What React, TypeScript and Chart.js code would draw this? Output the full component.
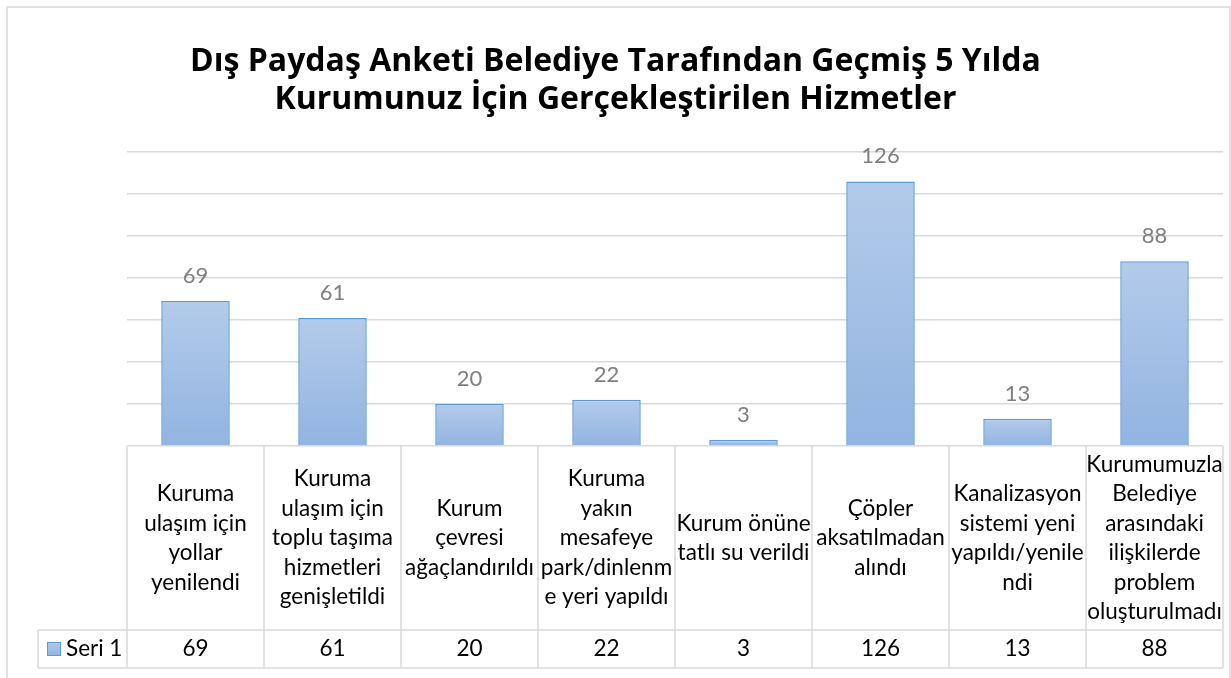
import React, { useEffect, useRef } from "react";
import { Chart, registerables } from "chart.js";

Chart.register(...registerables);

const titleLines = [
  "Dış Paydaş Anketi Belediye Tarafından Geçmiş 5 Yılda",
  "Kurumunuz İçin Gerçekleştirilen Hizmetler",
];

const categories: string[][] = [
  ["Kuruma", "ulaşım için", "yollar", "yenilendi"],
  ["Kuruma", "ulaşım için", "toplu taşıma", "hizmetleri", "genişletildi"],
  ["Kurum", "çevresi", "ağaçlandırıldı"],
  ["Kuruma", "yakın", "mesafeye", "park/dinlenm", "e yeri yapıldı"],
  ["Kurum önüne", "tatlı su verildi"],
  ["Çöpler", "aksatılmadan", "alındı"],
  ["Kanalizasyon", "sistemi yeni", "yapıldı/yenile", "ndi"],
  ["Kurumumuzla", "Belediye", "arasındaki", "ilişkilerde", "problem", "oluşturulmadı"],
];

const seriesName = "Seri 1";
const values = [69, 61, 20, 22, 3, 126, 13, 88];

const yMin = 0;
const yMax = 140;
const yStep = 20;

const FONT = "Lato, 'Open Sans', 'Liberation Sans', sans-serif";
const TITLE_FONT = "'Open Sans', Lato, 'Liberation Sans', sans-serif";
const GRID = "#d9d9d9";
const BAR_TOP = "#b3cbea";
const BAR_BOTTOM = "#92b4e1";
const BAR_BORDER = "#5b9bd5";

function barGradient(ctx: CanvasRenderingContext2D, top: number, bottom: number) {
  if (!isFinite(top) || !isFinite(bottom) || top === bottom) return BAR_TOP;
  const g = ctx.createLinearGradient(0, top, 0, bottom);
  g.addColorStop(0, BAR_TOP);
  g.addColorStop(1, BAR_BOTTOM);
  return g;
}

const framePlugin = {
  id: "frameBg",
  beforeDraw(chart: any) {
    const { ctx, width, height } = chart;
    ctx.save();
    ctx.fillStyle = "#ffffff";
    ctx.fillRect(0, 0, width, height);
    ctx.strokeStyle = GRID;
    ctx.lineWidth = 1.5;
    ctx.strokeRect(7, 7, 1223, 720);
    ctx.restore();
  },
};

const labelsPlugin = {
  id: "valueLabels",
  afterDatasetsDraw(chart: any) {
    const { ctx } = chart;
    const meta = chart.getDatasetMeta(0);
    ctx.save();
    ctx.font = `22px ${FONT}`;
    ctx.fillStyle = "#7f7f7f";
    ctx.textAlign = "center";
    ctx.textBaseline = "middle";
    meta.data.forEach((el: any, i: number) => {
      ctx.fillText(String(values[i]), el.x, el.y - 25);
    });
    ctx.restore();
  },
};

const tablePlugin = {
  id: "dataTable",
  afterDraw(chart: any) {
    const { ctx, chartArea } = chart;
    const xs = chart.scales.x;
    const n = categories.length;
    const colW = (chartArea.right - chartArea.left) / n;
    const top = chartArea.bottom;
    const rowSplit = 630;
    const bottom = 668;
    const legendLeft = 38;

    ctx.save();
    ctx.strokeStyle = GRID;
    ctx.lineWidth = 1.5;
    ctx.beginPath();
    for (let i = 0; i <= n; i++) {
      const x = i < n ? xs.getPixelForValue(i) - colW / 2 : xs.getPixelForValue(n - 1) + colW / 2;
      ctx.moveTo(x, top);
      ctx.lineTo(x, bottom);
    }
    ctx.moveTo(legendLeft, rowSplit);
    ctx.lineTo(chartArea.right, rowSplit);
    ctx.moveTo(legendLeft, bottom);
    ctx.lineTo(chartArea.right, bottom);
    ctx.moveTo(legendLeft, rowSplit);
    ctx.lineTo(legendLeft, bottom);
    ctx.stroke();

    ctx.fillStyle = "#000000";
    ctx.textAlign = "center";
    ctx.textBaseline = "middle";
    ctx.font = `22.5px ${FONT}`;
    const lh = 29.5;
    const midHeader = (top + rowSplit) / 2;
    categories.forEach((lines, i) => {
      const cx = xs.getPixelForValue(i);
      const start = midHeader - ((lines.length - 1) * lh) / 2;
      lines.forEach((t, j) => ctx.fillText(t, cx, start + j * lh));
    });
    const midRow = (rowSplit + bottom) / 2;
    values.forEach((v, i) => {
      ctx.fillText(String(v), xs.getPixelForValue(i), midRow);
    });

    // legend key
    const kx = 47, ky = 642, ks = 14;
    ctx.fillStyle = barGradient(ctx, ky, ky + ks);
    ctx.fillRect(kx, ky, ks, ks);
    ctx.strokeStyle = BAR_BORDER;
    ctx.lineWidth = 1;
    ctx.strokeRect(kx + 0.5, ky + 0.5, ks - 1, ks - 1);
    ctx.fillStyle = "#000000";
    ctx.textAlign = "left";
    ctx.fillText(seriesName, 66, midRow);
    ctx.restore();
  },
};

export default function App() {
  const ref = useRef<HTMLCanvasElement>(null);
  useEffect(() => {
    if (!ref.current) return;
    const chart = new Chart(ref.current, {
      type: "bar",
      data: {
        labels: categories,
        datasets: [
          {
            label: seriesName,
            data: values,
            backgroundColor: (c: any) => {
              const ch = c.chart;
              const y = ch.scales && ch.scales.y;
              if (!y || c.dataIndex === undefined) return BAR_TOP;
              const t = y.getPixelForValue(values[c.dataIndex]);
              const b = y.getPixelForValue(0);
              return barGradient(ch.ctx, t, b);
            },
            borderColor: BAR_BORDER,
            borderWidth: 1.5,
            borderSkipped: "start",
            barPercentage: 0.5,
            categoryPercentage: 1,
          },
        ],
      },
      options: {
        responsive: false,
        animation: false,
        devicePixelRatio: 1,
        layout: { padding: { left: 8, right: 8, top: 0, bottom: 232 } },
        plugins: {
          legend: { display: false },
          tooltip: { enabled: false },
          title: {
            display: true,
            text: titleLines,
            color: "#000000",
            font: { family: TITLE_FONT, size: 32, weight: "bold", lineHeight: 38 / 32 },
            padding: { top: 43, bottom: 33 },
          },
        },
        scales: {
          x: { display: false },
          y: {
            min: yMin,
            max: yMax,
            ticks: { display: false, stepSize: yStep },
            grid: { color: GRID, lineWidth: 1.5, drawTicks: false },
            border: { display: false },
            afterFit: (s: any) => {
              s.width = 119;
            },
          },
        },
      },
      plugins: [framePlugin, labelsPlugin, tablePlugin],
    } as any);
    return () => chart.destroy();
  }, []);
  return (
    <div style={{ position: "absolute", left: 0, top: 0, width: 1231, height: 678 }}>
      <canvas ref={ref} width={1231} height={678} style={{ display: "block", width: 1231, height: 678 }} />
    </div>
  );
}
